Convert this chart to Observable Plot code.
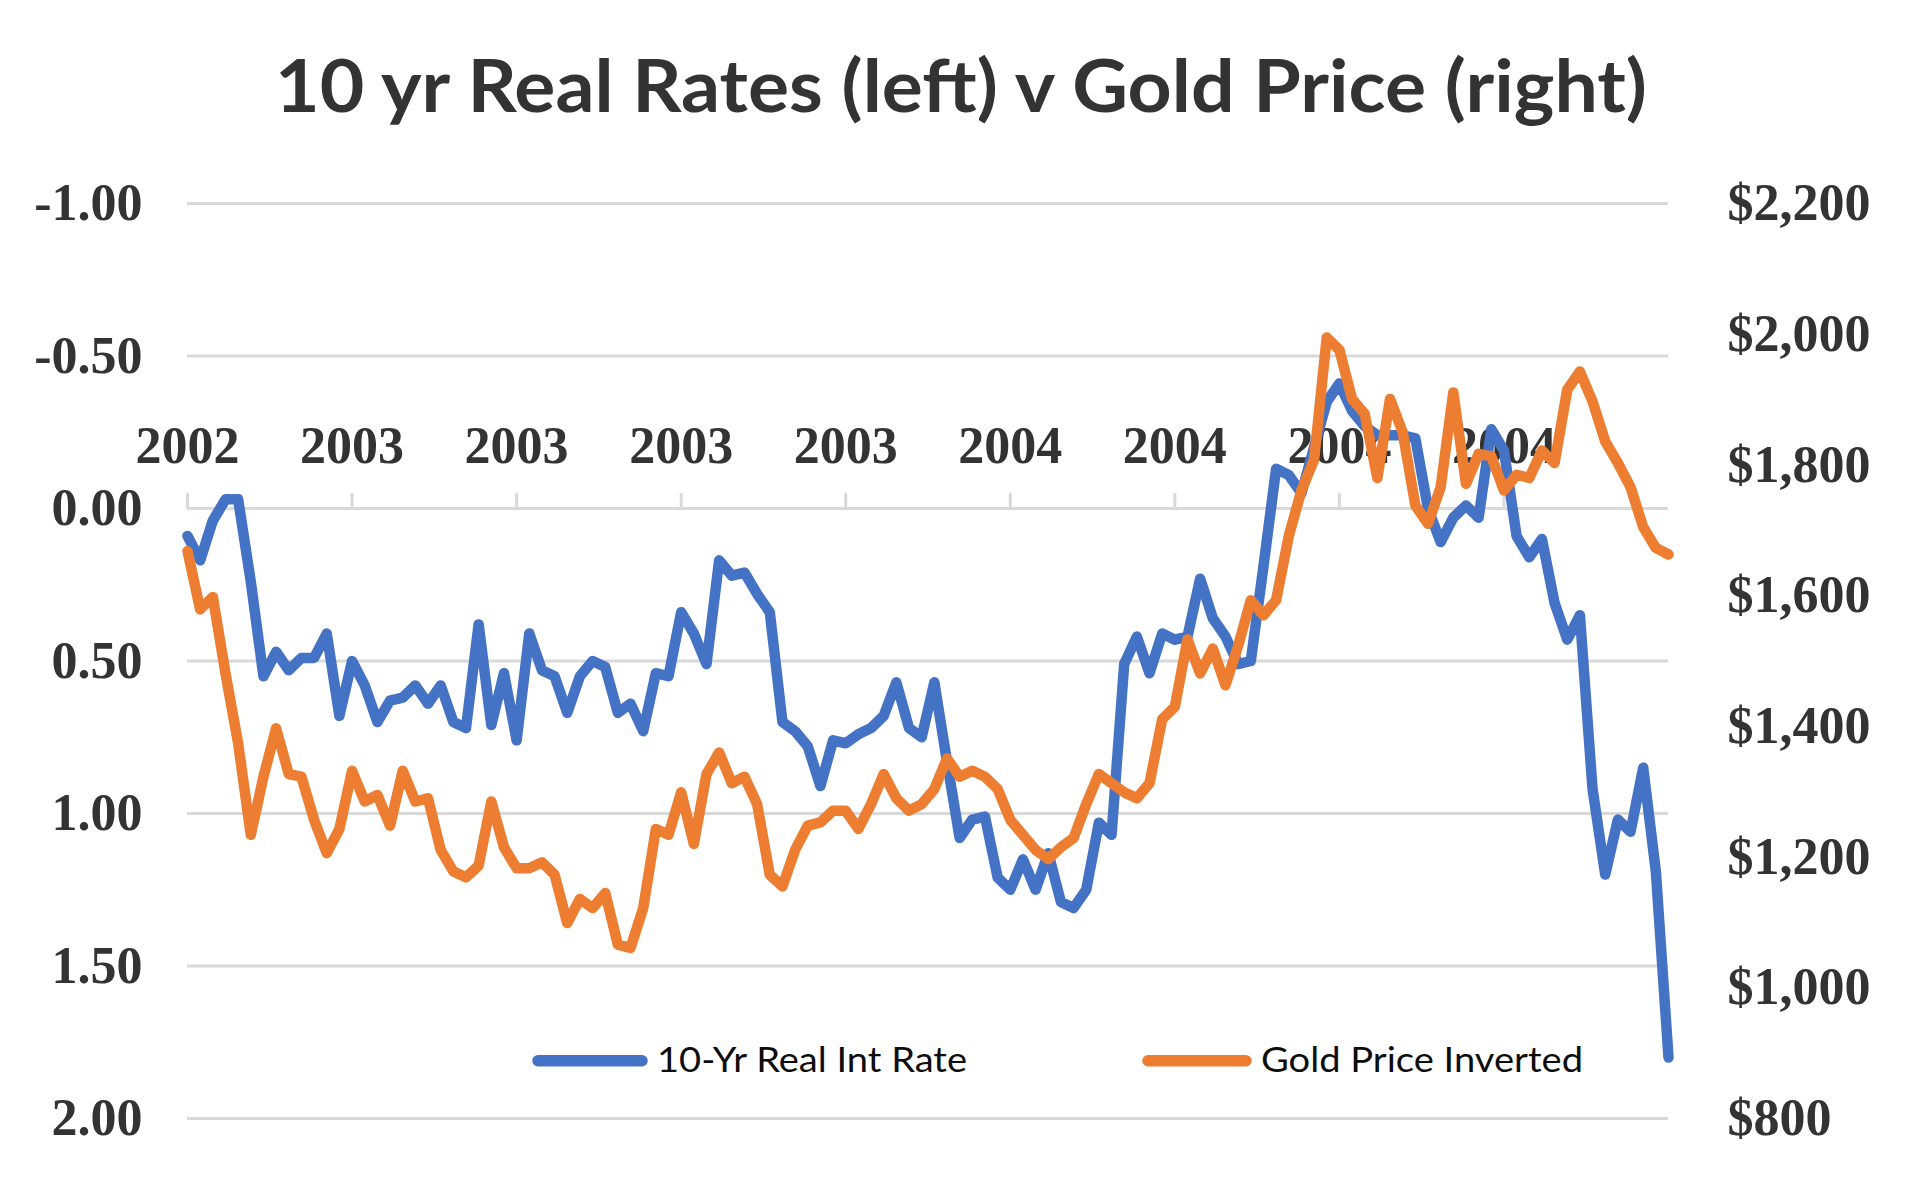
<!DOCTYPE html>
<html>
<head>
<meta charset="utf-8">
<script src="https://cdn.jsdelivr.net/npm/d3@7"></script>
<script src="https://cdn.jsdelivr.net/npm/@observablehq/plot@0.6"></script>
<style>
  html, body { margin: 0; padding: 0; background: #ffffff; }
  #wrap { position: relative; width: 1920px; height: 1196px; overflow: hidden; background: #ffffff; }
  #title { position: absolute; left: 0; top: 0; }
  #chart { position: absolute; left: 0; top: 170px; }
  #legend { position: absolute; left: 0; top: 1020px; pointer-events: none; }
</style>
</head>
<body>
<div id="wrap">
  <svg id="title" width="1920" height="170"></svg>
  <div id="chart"></div>
  <svg id="legend" width="1920" height="80"></svg>
</div>
<script>
// ---- data (monthly) ----
const titleText = "10 yr Real Rates (left) v Gold Price (right)";
const xLabels = ["2002", "2003", "2003", "2003", "2003", "2004", "2004", "2004", "2004"];
const xTickIndex = [0, 13, 26, 39, 52, 65, 78, 91, 104];
const rateTicks = [-1, -0.5, 0, 0.5, 1, 1.5, 2];
const goldTicks = [800, 1000, 1200, 1400, 1600, 1800, 2000, 2200];
const seriesNames = ["10-Yr Real Int Rate", "Gold Price Inverted"];
const seriesColors = ["#4472C4", "#ED7D31"];

const realRate = [
  0.09, 0.17, 0.04, -0.03, -0.03, 0.24, 0.55, 0.47, 0.53, 0.49,
  0.49, 0.41, 0.68, 0.50, 0.58, 0.70, 0.63, 0.62, 0.58, 0.64,
  0.58, 0.70, 0.72, 0.38, 0.71, 0.54, 0.76, 0.41, 0.53, 0.55,
  0.67, 0.55, 0.50, 0.52, 0.67, 0.64, 0.73, 0.54, 0.55, 0.34,
  0.41, 0.51, 0.17, 0.22, 0.21, 0.28, 0.34, 0.70, 0.73, 0.78,
  0.91, 0.76, 0.77, 0.74, 0.72, 0.68, 0.57, 0.72, 0.75, 0.57,
  0.83, 1.08, 1.02, 1.01, 1.21, 1.25, 1.15, 1.25, 1.13, 1.29,
  1.31, 1.25, 1.03, 1.07, 0.51, 0.42, 0.54, 0.41, 0.43, 0.42,
  0.23, 0.36, 0.42, 0.51, 0.50, 0.19, -0.13, -0.11, -0.05, -0.20,
  -0.35, -0.41, -0.32, -0.27, -0.24, -0.24, -0.24, -0.23, 0.00, 0.11,
  0.03, -0.01, 0.03, -0.26, -0.19, 0.09, 0.16, 0.10, 0.31, 0.43,
  0.35, 0.92, 1.20, 1.02, 1.06, 0.85, 1.19, 1.80
];

const goldPrice = [
  1668, 1579, 1598, 1481, 1374, 1234, 1323, 1397, 1327, 1323,
  1257, 1206, 1243, 1332, 1285, 1295, 1248, 1332, 1285, 1290,
  1211, 1178, 1169, 1187, 1285, 1215, 1183, 1183, 1192, 1173,
  1099, 1136, 1122, 1145, 1066, 1061, 1122, 1243, 1234, 1299,
  1220, 1327, 1360, 1313, 1323, 1281, 1173, 1155, 1211, 1248,
  1253, 1271, 1271, 1243, 1281, 1327, 1290, 1271, 1281, 1304,
  1351, 1323, 1332, 1323, 1304, 1257, 1234, 1211, 1197, 1215,
  1229, 1281, 1327, 1313, 1299, 1290, 1313, 1411, 1430, 1533,
  1481, 1519, 1463, 1523, 1593, 1570, 1593, 1691, 1761, 1808,
  1995, 1976, 1901, 1878, 1780, 1901, 1850, 1738, 1710, 1766,
  1911, 1771, 1817, 1813, 1761, 1785, 1780, 1822, 1803, 1915,
  1943, 1897, 1836, 1803, 1766, 1705, 1673, 1663
];

// ---- derived tables ----
const rows = realRate.map((r, i) => ({i, rate: r, gold: goldPrice[i]}));
const xTickRows = xTickIndex.map((i, k) => ({i, label: xLabels[k]}));
// right axis (gold) mapped onto the left axis units
const goldToY = d3.scaleLinear().domain([goldTicks[goldTicks.length - 1], goldTicks[0]]).range([rateTicks[0], rateTicks[rateTicks.length - 1]]);
const yToGold = goldToY.copy().invert ? (v) => goldToY.invert(v) : null;

const serif = "'Liberation Serif', 'Times New Roman', serif";
const ink = "#333333";
const grid = "#d9d9d9";

const chart = Plot.plot({
  width: 1920,
  height: 1026,
  marginLeft: 187,
  marginRight: 252,
  marginTop: 33,
  marginBottom: 78,
  style: {background: "#ffffff", color: ink, fontFamily: serif, fontWeight: "bold", fontSize: "52px", overflow: "visible"},
  x: {domain: [0, rows.length - 1], axis: null},
  y: {domain: [rateTicks[0], rateTicks[rateTicks.length - 1]], reverse: true},
  marks: [
    Plot.ruleY(rateTicks, {stroke: grid, strokeWidth: 3}),
    Plot.ruleX(xTickRows, {x: "i", y1: () => 0, y2: () => 0, insetTop: -15, stroke: grid, strokeWidth: 3}),
    Plot.axisY(rateTicks, {
      anchor: "left", label: null, tickSize: 0, tickPadding: 45,
      tickFormat: (d) => d.toFixed(2),
      fill: ink, fontFamily: serif, fontWeight: "bold", fontSize: 52
    }),
    Plot.axisY(goldTicks.map((g) => goldToY(g)), {
      anchor: "right", label: null, tickSize: 0, tickPadding: 59,
      tickFormat: (d) => "$" + d3.format(",")(Math.round(yToGold(d))),
      fill: ink, fontFamily: serif, fontWeight: "bold", fontSize: 52
    }),
    Plot.text(xTickRows, {
      x: "i", y: () => 0, text: "label", lineAnchor: "bottom", dy: -46,
      fill: ink, fontFamily: serif, fontWeight: "bold", fontSize: 52
    }),
    Plot.line(rows, {x: "i", y: "rate", stroke: seriesColors[0], strokeWidth: 10.5, strokeLinejoin: "round", strokeLinecap: "round"}),
    Plot.line(rows, {x: "i", y: (d) => goldToY(d.gold), stroke: seriesColors[1], strokeWidth: 10.5, strokeLinejoin: "round", strokeLinecap: "round"})
  ]
});
document.getElementById("chart").appendChild(chart);

// ---- title ----
const svgNS = "http://www.w3.org/2000/svg";
const tsvg = document.getElementById("title");
const t = document.createElementNS(svgNS, "text");
t.setAttribute("x", 275);
t.setAttribute("y", 112);
t.setAttribute("textLength", 1372);
t.setAttribute("lengthAdjust", "spacingAndGlyphs");
t.setAttribute("fill", ink);
t.setAttribute("font-family", "Lato, 'Open Sans', sans-serif");
t.setAttribute("font-weight", "700");
t.setAttribute("font-size", 72);
t.textContent = titleText;
tsvg.appendChild(t);

// ---- legend ----
const lsvg = document.getElementById("legend");
const legendLayout = [
  {x1: 538, x2: 642, tx: 657, tl: 310},
  {x1: 1148, x2: 1246, tx: 1261, tl: 322}
];
seriesNames.forEach((name, k) => {
  const L = legendLayout[k];
  const ln = document.createElementNS(svgNS, "line");
  ln.setAttribute("x1", L.x1); ln.setAttribute("x2", L.x2);
  ln.setAttribute("y1", 40.7); ln.setAttribute("y2", 40.7);
  ln.setAttribute("stroke", seriesColors[k]);
  ln.setAttribute("stroke-width", 11.5);
  ln.setAttribute("stroke-linecap", "round");
  lsvg.appendChild(ln);
  const tx = document.createElementNS(svgNS, "text");
  tx.setAttribute("x", L.tx);
  tx.setAttribute("y", 51.7);
  tx.setAttribute("textLength", L.tl);
  tx.setAttribute("lengthAdjust", "spacingAndGlyphs");
  tx.setAttribute("fill", "#0d0d0d");
  tx.setAttribute("font-family", "Lato, 'Open Sans', sans-serif");
  tx.setAttribute("font-size", 35);
  tx.textContent = name;
  lsvg.appendChild(tx);
});
</script>
</body>
</html>
